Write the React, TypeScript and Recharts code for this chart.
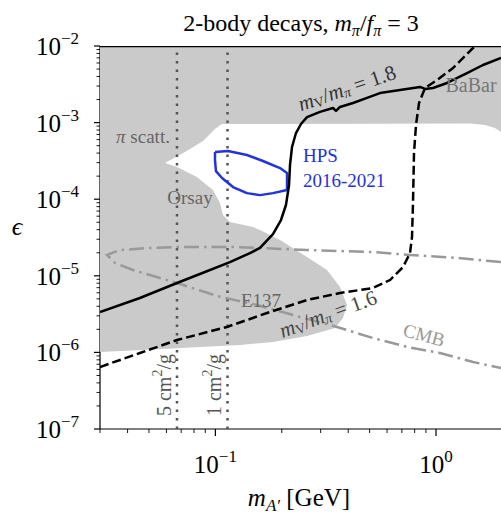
import React from "react";
import { ScatterChart, Scatter, XAxis, YAxis } from "recharts";

const SERIF = "'Liberation Serif', 'DejaVu Serif', serif";

// axis ticks
const xMajor = [0.1, 1];
const xMajorLabels = ["\u22121", "0"];
const xTicks = [0.03, 0.04, 0.05, 0.06, 0.07, 0.08, 0.09, 0.1, 0.2, 0.3, 0.4, 0.5, 0.6, 0.7, 0.8, 0.9, 1];
const yMajor = [1e-7, 1e-6, 1e-5, 1e-4, 1e-3, 1e-2];
const yMajorLabels = ["\u22127", "\u22126", "\u22125", "\u22124", "\u22123", "\u22122"];
const yTicks = [
  1e-7, 2e-7, 3e-7, 4e-7, 5e-7, 6e-7, 7e-7, 8e-7, 9e-7,
  1e-6, 2e-6, 3e-6, 4e-6, 5e-6, 6e-6, 7e-6, 8e-6, 9e-6,
  1e-5, 2e-5, 3e-5, 4e-5, 5e-5, 6e-5, 7e-5, 8e-5, 9e-5,
  1e-4, 2e-4, 3e-4, 4e-4, 5e-4, 6e-4, 7e-4, 8e-4, 9e-4,
  1e-3, 2e-3, 3e-3, 4e-3, 5e-3, 6e-3, 7e-3, 8e-3, 9e-3, 1e-2,
];

// excluded (gray) region boundary
const excludedX = [0.03, 1.97, 1.97, 1.85, 1.67, 1.43, 0.107, 0.0996, 0.0879, 0.0728, 0.0591, 0.067, 0.0825, 0.0975, 0.1049, 0.1082, 0.1164, 0.1481, 0.1593, 0.1963, 0.2602, 0.3205, 0.3671, 0.395, 0.3788, 0.3484, 0.2602, 0.1824, 0.1293, 0.0851, 0.0603, 0.03];
const excludedY = [1e-2, 1e-2, 7.54e-4, 8.5e-4, 9.31e-4, 9.73e-4, 9.6e-4, 8.25e-4, 5.75e-4, 4.13e-4, 2.97e-4, 2.63e-4, 1.95e-4, 1.32e-4, 8.92e-5, 6.22e-5, 5.04e-5, 4.34e-5, 3.96e-5, 2.93e-5, 1.76e-5, 1.19e-5, 7.14e-6, 4.16e-6, 2.81e-6, 2.08e-6, 1.64e-6, 1.37e-6, 1.25e-6, 1.18e-6, 1.12e-6, 1.01e-6];

// mV/mpi = 1.8 (solid)
const ratio18X = [0.03, 0.0455, 0.067, 0.0897, 0.1164, 0.1435, 0.1593, 0.1824, 0.1983, 0.2089, 0.2157, 0.2179, 0.2225, 0.2319, 0.2443, 0.2602, 0.2979, 0.3412, 0.3521, 0.3671, 0.4205, 0.4867, 0.5572, 0.6867, 0.8462, 0.8917, 0.9692, 1.1218, 1.382, 1.633, 1.97];
const ratio18Y = [3.37e-6, 5.13e-6, 8.05e-6, 1.12e-5, 1.51e-5, 1.98e-5, 2.31e-5, 3.51e-5, 5.35e-5, 8.4e-5, 1.53e-4, 2.8e-4, 4.8e-4, 7.31e-4, 9.59e-4, 1.18e-3, 1.38e-3, 1.55e-3, 1.42e-3, 1.6e-3, 1.8e-3, 2.1e-3, 2.43e-3, 2.66e-3, 2.92e-3, 2.75e-3, 2.83e-3, 3.29e-3, 4.44e-3, 5.65e-3, 6.97e-3];

// mV/mpi = 1.6 (dashed)
const ratio16X = [0.03, 0.0455, 0.067, 0.1129, 0.1714, 0.2602, 0.3671, 0.5181, 0.6188, 0.7087, 0.7623, 0.7783, 0.7864, 0.7947, 0.8114, 0.8375, 0.8917, 1.0105, 1.194, 1.502];
const ratio16Y = [6.45e-7, 9.82e-7, 1.45e-6, 2.15e-6, 3.27e-6, 4.83e-6, 5.96e-6, 6.93e-6, 8.81e-6, 1.3e-5, 1.98e-5, 3.21e-5, 8.92e-5, 4.01e-4, 9.31e-4, 1.8e-3, 2.83e-3, 3.6e-3, 5.16e-3, 1e-2];

// CMB bound (dash-dot)
const cmbX = [1.97, 1.245, 0.7623, 0.5181, 0.2602, 0.1593, 0.1164, 0.067, 0.0505, 0.0369, 0.0323, 0.0351, 0.0423, 0.067, 0.1017, 0.1544, 0.2418, 0.3557, 0.5181, 0.7389, 1.0426, 1.472, 1.97];
const cmbY = [1.51e-5, 1.71e-5, 1.87e-5, 2.04e-5, 2.17e-5, 2.31e-5, 2.38e-5, 2.38e-5, 2.31e-5, 2.17e-5, 1.87e-5, 1.47e-5, 1.19e-5, 8.05e-6, 5.45e-6, 4.16e-6, 2.9e-6, 2.15e-6, 1.54e-6, 1.18e-6, 9.82e-7, 7.49e-7, 6.25e-7];

// HPS 2016-2021 reach (blue contour)
const hpsX = [0.0996, 0.1141, 0.139, 0.1643, 0.1963, 0.2112, 0.2112, 0.1824, 0.1593, 0.139, 0.1202, 0.1072, 0.1006, 0.0996, 0.0996];
const hpsY = [4.13e-4, 4.26e-4, 3.78e-4, 3.15e-4, 2.55e-4, 2.2e-4, 1.32e-4, 1.2e-4, 1.13e-4, 1.2e-4, 1.44e-4, 1.89e-4, 2.33e-4, 3.25e-4, 4.13e-4];

// self-interaction cross section lines (dotted)
const sigma5X = [0.067, 0.067];
const sigma1X = [0.1135, 0.1135];
const sigmaY = [1e-7, 1e-2];

// top frame of the axes
const frameX = [0.03, 1.97];
const frameY = [1e-2, 1e-2];

// annotation anchors
const labels = [
  { id: "pi", x: 0.047, y: 6.68e-4 },
  { id: "orsay", x: 0.0767, y: 1.04e-4 },
  { id: "e137", x: 0.1609, y: 4.76e-6 },
  { id: "babar", x: 1.441, y: 3.1e-3 },
  { id: "hps1", x: 0.2495, y: 3.72e-4 },
  { id: "hps2", x: 0.2495, y: 1.78e-4 },
  { id: "r18", x: 0.395, y: 2.83e-3 },
  { id: "r16", x: 0.3239, y: 3.17e-6 },
  { id: "cmb", x: 0.8823, y: 1.69e-6 },
  { id: "s5", x: 0.0585, y: 3.75e-7 },
  { id: "s1", x: 0.0986, y: 3.75e-7 },
];

const pts = (xs: number[], ys: number[]) => xs.map((x, i) => ({ x, y: ys[i] }));

const noDot = () => <g />;

const YTick = (props: any) => {
  const { x, y, payload } = props;
  const idx = yMajor.indexOf(payload.value);
  const major = idx >= 0;
  return (
    <g>
      <line x1={x - (major ? 6 : 3.5)} x2={x} y1={y} y2={y} stroke="#000" strokeWidth={major ? 1.2 : 0.9} />
      {major && (
        <text x={x - 21} y={y + 9} textAnchor="end" fontFamily={SERIF} fontSize={25} fill="#000">
          10
          <tspan dy={-11} fontSize={17}>{yMajorLabels[idx]}</tspan>
        </text>
      )}
    </g>
  );
};

const XTick = (props: any) => {
  const { x, y, payload } = props;
  const idx = xMajor.indexOf(payload.value);
  const major = idx >= 0;
  return (
    <g>
      <line x1={x} x2={x} y1={y} y2={y + (major ? 7 : 4)} stroke="#000" strokeWidth={major ? 1.2 : 0.9} />
      {major && (
        <text x={x} y={y + 44} textAnchor="middle" fontFamily={SERIF} fontSize={25} fill="#000">
          10
          <tspan dy={-11} fontSize={17}>{xMajorLabels[idx]}</tspan>
        </text>
      )}
    </g>
  );
};

const Annotation = (props: any) => {
  const { cx, cy, payload } = props;
  const base = { fontFamily: SERIF, textAnchor: "middle" as const, dominantBaseline: "central" as const };
  switch (payload.id) {
    case "pi":
      return <text x={cx} y={cy} {...base} fontSize={19} fill="#666"><tspan fontStyle="italic">π</tspan> scatt.</text>;
    case "orsay":
      return <text x={cx} y={cy} {...base} fontSize={19} fill="#666">Orsay</text>;
    case "e137":
      return <text x={cx} y={cy} {...base} fontSize={19} fill="#666">E137</text>;
    case "babar":
      return <text x={cx} y={cy} {...base} fontSize={20} fill="#777">BaBar</text>;
    case "hps1":
      return <text x={cx} y={cy} {...base} textAnchor="start" fontSize={19} fill="#2233dd">HPS</text>;
    case "hps2":
      return <text x={cx} y={cy} {...base} textAnchor="start" fontSize={19} fill="#2233dd">2016-2021</text>;
    case "r18":
    case "r16":
      return (
        <text x={cx} y={cy} {...base} fontSize={21} fill={payload.id === "r18" ? "#333" : "#444"}
          transform={`rotate(${payload.id === "r18" ? -19 : -20} ${cx} ${cy})`}>
          <tspan fontStyle="italic">m</tspan>
          <tspan fontSize={14} dy={4}>V</tspan>
          <tspan dy={-4}>/</tspan>
          <tspan fontStyle="italic">m</tspan>
          <tspan fontSize={14} dy={4} fontStyle="italic">π</tspan>
          <tspan dy={-4}>{payload.id === "r18" ? " = 1.8" : " = 1.6"}</tspan>
        </text>
      );
    case "cmb":
      return <text x={cx} y={cy} {...base} fontSize={19} fill="#999" transform={`rotate(15 ${cx} ${cy})`}>CMB</text>;
    case "s5":
    case "s1":
      return (
        <text x={cx} y={cy} {...base} fontSize={20} fill="#555" transform={`rotate(-90 ${cx} ${cy})`}>
          {payload.id === "s5" ? "5 cm" : "1 cm"}
          <tspan dy={-7} fontSize={14}>2</tspan>
          <tspan dy={7}>/g</tspan>
        </text>
      );
    default:
      return <g />;
  }
};

const OuterTexts = () => (
  <g>
    <text x={301} y={31} textAnchor="middle" fontFamily={SERIF} fontSize={24} fill="#000">
      2-body decays,{" "}
      <tspan fontStyle="italic">m</tspan>
      <tspan fontSize={16} dy={5} fontStyle="italic">π</tspan>
      <tspan dy={-5}>/</tspan>
      <tspan fontStyle="italic">f</tspan>
      <tspan fontSize={16} dy={5} fontStyle="italic">π</tspan>
      <tspan dy={-5}> = 3</tspan>
    </text>
    <text x={17} y={235} textAnchor="middle" fontFamily={SERIF} fontSize={26} fontStyle="italic" fill="#000">
      ϵ
    </text>
  </g>
);

export default function App() {
  return (
    <div style={{ position: "absolute", left: 0, top: 0, background: "#fff" }}>
      <ScatterChart width={501} height={515} margin={{ top: 46, right: 0, bottom: 0, left: 0 }}>
        <XAxis
          type="number"
          dataKey="x"
          scale="log"
          domain={[0.03, 1.97]}
          allowDataOverflow
          ticks={xTicks}
          interval={0}
          tick={<XTick />}
          tickLine={false}
          tickSize={0}
          tickMargin={0}
          height={86}
          axisLine={{ stroke: "#000", strokeWidth: 1.2 }}
          label={{
            content: () => (
              <text x={299} y={506} textAnchor="middle" fontFamily={SERIF} fontSize={25} fill="#000">
                <tspan fontStyle="italic">m</tspan>
                <tspan fontSize={17} dy={5} fontStyle="italic">A′</tspan>
                <tspan dy={-5}> [GeV]</tspan>
              </text>
            ),
          }}
        />
        <YAxis
          type="number"
          dataKey="y"
          scale="log"
          domain={[1e-7, 1e-2]}
          allowDataOverflow
          ticks={yTicks}
          interval={0}
          tick={<YTick />}
          tickLine={false}
          tickSize={0}
          tickMargin={0}
          width={100}
          axisLine={{ stroke: "#000", strokeWidth: 1.2 }}
          label={{ content: () => <OuterTexts /> }}
        />
        <Scatter data={pts(excludedX, excludedY)} line={{ fill: "#cacaca", stroke: "none" }} lineType="joint" shape={noDot} isAnimationActive={false} legendType="none" />
        <Scatter data={pts(sigma5X, sigmaY)} line={{ stroke: "#555", strokeWidth: 2.5, strokeDasharray: "2.5 6", fill: "none" }} lineType="joint" shape={noDot} isAnimationActive={false} legendType="none" />
        <Scatter data={pts(sigma1X, sigmaY)} line={{ stroke: "#555", strokeWidth: 2.5, strokeDasharray: "2.5 6", fill: "none" }} lineType="joint" shape={noDot} isAnimationActive={false} legendType="none" />
        <Scatter data={pts(cmbX, cmbY)} line={{ stroke: "#999", strokeWidth: 2.5, strokeDasharray: "15 5 2.5 5", fill: "none" }} lineType="joint" shape={noDot} isAnimationActive={false} legendType="none" />
        <Scatter data={pts(hpsX, hpsY)} line={{ stroke: "#2233dd", strokeWidth: 2.5, fill: "none", strokeLinejoin: "round" }} lineType="joint" shape={noDot} isAnimationActive={false} legendType="none" />
        <Scatter data={pts(ratio16X, ratio16Y)} line={{ stroke: "#000", strokeWidth: 2.5, strokeDasharray: "9 4", fill: "none" }} lineType="joint" shape={noDot} isAnimationActive={false} legendType="none" />
        <Scatter data={pts(ratio18X, ratio18Y)} line={{ stroke: "#000", strokeWidth: 2.5, fill: "none", strokeLinejoin: "round" }} lineType="joint" shape={noDot} isAnimationActive={false} legendType="none" />
        <Scatter data={pts(frameX, frameY)} line={{ stroke: "#000", strokeWidth: 2.4, fill: "none" }} lineType="joint" shape={noDot} isAnimationActive={false} legendType="none" />
        <Scatter data={labels} shape={<Annotation />} isAnimationActive={false} legendType="none" />
      </ScatterChart>
    </div>
  );
}
